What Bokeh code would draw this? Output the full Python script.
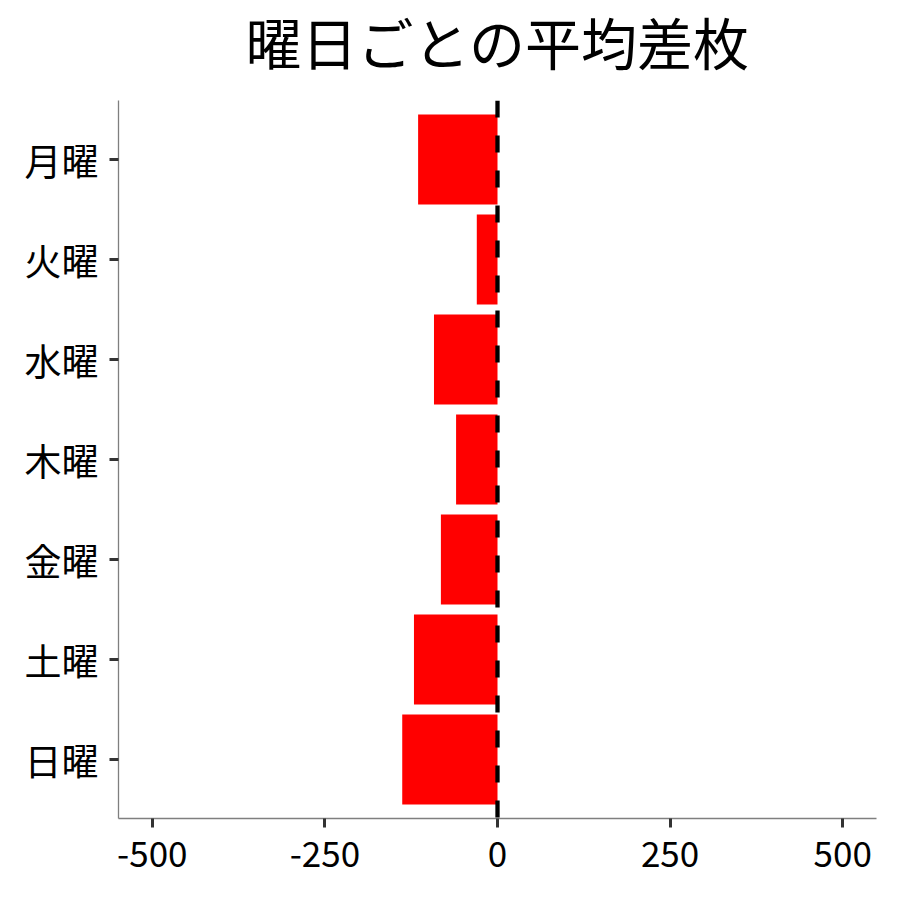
from bokeh.plotting import figure
from bokeh.layouts import column
from bokeh.models import Span, FixedTicker, Range1d, FactorRange, Label
from bokeh.embed import file_html
from bokeh.resources import INLINE

days = ["月曜", "火曜", "水曜", "木曜", "金曜", "土曜", "日曜"]
avg_diff = [-115, -30, -92, -60, -82, -121, -138]
x_ticks = [-500, -250, 0, 250, 500]
title_text = "曜日ごとの平均差枚"

FONT = "Noto Sans CJK JP"
TITLE_H = 90
LEFT = 118
RIGHT = 8
FRAME_W = 884 - LEFT - RIGHT

# title strip (frame aligned with the chart's frame by the column layout)
t = figure(width=884, height=TITLE_H, x_range=Range1d(0, 1), y_range=Range1d(0, 1),
           x_axis_location=None, y_axis_location=None,
           output_backend="svg", toolbar_location=None)
t.min_border = 0
t.min_border_left = LEFT
t.min_border_right = RIGHT
t.outline_line_color = None
t.xgrid.grid_line_color = None
t.ygrid.grid_line_color = None
t.border_fill_color = "white"
t.background_fill_color = "white"
t.add_layout(Label(x=FRAME_W / 2, y=TITLE_H - 40, x_units="screen", y_units="screen", text=title_text,
                   text_font=FONT, text_font_size="56px", text_color="black",
                   text_align="center", text_baseline="middle"))

p = figure(
    width=884, height=884 - TITLE_H,
    y_range=FactorRange(factors=list(reversed(days)), range_padding=0.09, range_padding_units="absolute"),
    x_range=Range1d(-549, 549),
    output_backend="svg", toolbar_location=None,
)
p.min_border_left = LEFT
p.min_border_right = RIGHT
p.min_border_top = 100 - TITLE_H
p.min_border_bottom = 66

p.hbar(y=days, right=avg_diff, left=0, height=0.9, color="#FF0000", line_color=None)

zero = Span(location=0, dimension="height", line_color="black", line_width=4.3, line_dash="17 18")
p.add_layout(zero)

p.xaxis.ticker = FixedTicker(ticks=x_ticks)
p.xaxis.major_label_overrides = {tk: str(tk) for tk in x_ticks}
for ax in (p.xaxis, p.yaxis):
    ax.axis_line_color = "#7f7f7f"
    ax.axis_line_width = 1.3
    ax.major_tick_line_color = "#333333"
    ax.major_tick_line_width = 3
    ax.major_tick_out = 9
    ax.major_tick_in = 0
    ax.minor_tick_line_color = None
    ax.major_label_text_font = FONT
    ax.major_label_text_color = "black"
p.xaxis.major_label_text_font_size = "35px"
p.yaxis.major_label_text_font_size = "37px"
p.xaxis.major_label_standoff = 13
p.yaxis.major_label_standoff = 11

p.xgrid.grid_line_color = None
p.ygrid.grid_line_color = None
p.outline_line_color = None
p.background_fill_color = "white"
p.border_fill_color = "white"

layout = column(t, p, spacing=0)
open("out.html", "w").write(file_html(layout, INLINE))
